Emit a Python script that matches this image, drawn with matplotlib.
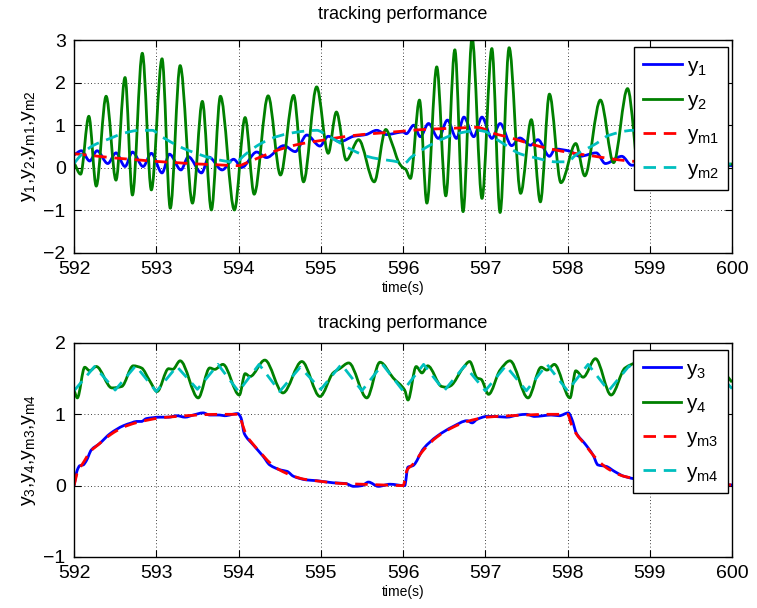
import numpy as np
import matplotlib
matplotlib.use("Agg")
import matplotlib.pyplot as plt
from matplotlib.path import Path
from matplotlib.patches import PathPatch
from matplotlib.lines import Line2D

plt.rcParams['font.family'] = ['Liberation Sans', 'DejaVu Sans']
plt.rcParams['mathtext.default'] = 'regular'

# ------------------------------------------------------------
# data (time in s, value)
# ------------------------------------------------------------

# top panel: y1 (blue)
t_y1 = [592.00, 592.09, 592.19, 592.28, 592.41, 592.51, 592.62, 592.71, 592.84, 592.94,
        593.07, 593.16, 593.30, 593.39, 593.55, 593.64, 593.80, 593.94, 594.04, 594.22,
        594.34, 594.55, 594.69, 594.83, 594.99, 595.09, 595.23, 595.40, 595.55, 595.68,
        595.80, 596.00, 596.04, 596.13, 596.21, 596.31, 596.43, 596.54, 596.65, 596.74,
        596.86, 596.96, 597.08, 597.18, 597.32, 597.42, 597.55, 597.64, 597.78, 597.85,
        598.03, 598.15, 598.35, 598.46, 598.66, 598.78, 599.00, 599.30, 599.60, 600.00]
y1 = [0.30, 0.40, 0.16, 0.40, 0.10, 0.35, 0.03, 0.37, 0.03, 0.34,
      -0.12, 0.32, -0.05, 0.26, -0.12, 0.25, -0.05, 0.20, 0.01, 0.37,
      0.24, 0.52, 0.38, 0.77, 0.51, 0.74, 0.61, 0.74, 0.78, 0.88,
      0.78, 0.84, 0.80, 1.00, 0.73, 1.04, 0.69, 1.12, 0.69, 1.19,
      0.73, 1.19, 0.69, 1.04, 0.52, 0.70, 0.53, 0.66, 0.27, 0.44,
      0.39, 0.27, 0.35, 0.10, 0.27, 0.06, 0.15, 0.05, 0.12, 0.05]

# top panel: y2 (green)
t_y2 = [592.00, 592.08, 592.18, 592.27, 592.39, 592.51, 592.62, 592.71, 592.83, 592.94,
        593.07, 593.17, 593.29, 593.44, 593.56, 593.67, 593.78, 593.95, 594.08, 594.19,
        594.36, 594.51, 594.67, 594.79, 594.95, 595.09, 595.19, 595.31, 595.46, 595.65,
        595.79, 595.87, 595.95, 596.00, 596.03, 596.09, 596.20, 596.29, 596.41, 596.52,
        596.63, 596.73, 596.84, 596.96, 597.08, 597.18, 597.29, 597.43, 597.56, 597.67,
        597.78, 597.92, 598.10, 598.21, 598.40, 598.56, 598.73, 598.88, 599.05, 599.20,
        599.38, 599.55, 599.72, 599.88, 600.00]
y2 = [0.12, -0.15, 1.21, -0.43, 1.68, -0.29, 2.12, -0.64, 2.69, -0.52,
      2.56, -0.95, 2.40, -0.83, 1.56, -0.99, 1.68, -0.99, 1.18, -0.62,
      1.69, -0.17, 1.70, -0.33, 1.90, 0.34, 1.31, 0.18, 0.66, -0.33,
      0.90, 0.55, 0.12, 0.00, -0.03, -0.25, 1.59, -0.83, 2.37, -0.66,
      2.77, -1.03, 3.05, -0.72, 2.80, -1.05, 2.82, -0.60, 1.13, -0.80,
      1.73, -0.35, 0.57, -0.19, 1.59, 0.12, 1.86, -0.20, 1.30, -0.10,
      1.00, 0.00, 0.80, 0.00, 0.10]

# top panel: ym1 (red dashed)
t_ym1 = [592.00, 592.25, 592.50, 592.75, 593.00, 593.25, 593.50, 593.75, 594.00, 594.10,
         594.25, 594.50, 594.75, 595.00, 595.25, 595.50, 595.75, 596.00, 596.25, 596.50,
         596.75, 596.90, 597.00, 597.10, 597.30, 597.55, 597.80, 598.05, 598.30, 598.50,
         598.75, 599.00, 599.50, 600.00]
ym1 = [0.33, 0.28, 0.23, 0.19, 0.15, 0.12, 0.09, 0.07, 0.05, 0.12,
       0.24, 0.43, 0.56, 0.64, 0.72, 0.78, 0.82, 0.86, 0.90, 0.92,
       0.94, 0.95, 0.90, 0.81, 0.71, 0.56, 0.44, 0.35, 0.28, 0.22,
       0.16, 0.13, 0.09, 0.07]

# top panel: ym2 (cyan dashed)
t_ym2 = [592.00, 592.10, 592.23, 592.44, 592.60, 592.80, 592.95, 593.05, 593.25, 593.40,
         593.66, 593.80, 593.96, 594.08, 594.22, 594.40, 594.60, 594.80, 594.95, 595.07,
         595.28, 595.40, 595.56, 595.70, 595.88, 596.02, 596.10, 596.20, 596.30, 596.45,
         596.60, 596.75, 596.90, 597.00, 597.10, 597.25, 597.42, 597.60, 597.86, 598.00,
         598.10, 598.35, 598.50, 598.80, 599.00, 599.20, 599.50, 599.80, 600.00]
ym2 = [0.10, 0.33, 0.52, 0.69, 0.81, 0.88, 0.88, 0.75, 0.53, 0.40,
       0.23, 0.17, 0.13, 0.31, 0.51, 0.69, 0.80, 0.86, 0.88, 0.77,
       0.53, 0.40, 0.27, 0.21, 0.16, 0.11, 0.25, 0.38, 0.50, 0.65,
       0.77, 0.84, 0.88, 0.85, 0.72, 0.53, 0.33, 0.24, 0.14, 0.14,
       0.30, 0.57, 0.76, 0.88, 0.84, 0.60, 0.30, 0.15, 0.08]

# bottom panel: y3 (blue)
t_y3 = [592.00, 592.04, 592.07, 592.11, 592.15, 592.21, 592.31, 592.44, 592.60, 592.70,
        592.76, 592.82, 592.88, 593.05, 593.15, 593.25, 593.35, 593.45, 593.57, 593.65,
        593.77, 593.83, 593.99, 594.03, 594.07, 594.18, 594.30, 594.38, 594.51, 594.59,
        594.67, 594.83, 594.95, 595.15, 595.30, 595.40, 595.50, 595.58, 595.70, 595.84,
        596.02, 596.06, 596.12, 596.25, 596.41, 596.61, 596.78, 596.84, 596.90, 597.02,
        597.10, 597.26, 597.40, 597.50, 597.60, 597.70, 597.80, 597.90, 598.01, 598.05,
        598.11, 598.21, 598.31, 598.37, 598.47, 598.57, 598.69, 599.00, 599.50, 600.00]
y3 = [0.00, 0.22, 0.28, 0.29, 0.35, 0.50, 0.59, 0.73, 0.84, 0.88,
      0.90, 0.90, 0.94, 0.96, 0.96, 0.98, 0.96, 0.99, 1.02, 0.99,
      0.99, 0.98, 1.01, 0.95, 0.73, 0.57, 0.41, 0.29, 0.22, 0.20,
      0.13, 0.08, 0.07, 0.04, 0.03, -0.01, 0.00, 0.05, -0.01, 0.02,
      0.00, 0.26, 0.28, 0.52, 0.69, 0.83, 0.91, 0.88, 0.93, 0.97,
      0.97, 0.96, 0.99, 1.00, 0.97, 0.98, 0.99, 0.98, 1.02, 0.94,
      0.73, 0.59, 0.43, 0.29, 0.27, 0.20, 0.13, 0.06, 0.02, 0.01]

# bottom panel: y4 (green)
t_y4 = [592.00, 592.04, 592.13, 592.19, 592.27, 592.46, 592.58, 592.72, 592.82, 592.92,
        593.01, 593.15, 593.20, 593.29, 593.51, 593.65, 593.71, 593.81, 594.01, 594.08,
        594.14, 594.32, 594.54, 594.77, 594.99, 595.15, 595.23, 595.34, 595.56, 595.72,
        595.88, 596.02, 596.06, 596.16, 596.23, 596.30, 596.47, 596.53, 596.58, 596.73,
        596.81, 596.90, 596.95, 597.04, 597.18, 597.30, 597.52, 597.68, 597.75, 597.84,
        598.03, 598.10, 598.19, 598.34, 598.53, 598.70, 598.85, 599.05, 599.30, 599.55,
        599.80, 600.00]
y4 = [1.34, 1.23, 1.66, 1.61, 1.67, 1.37, 1.39, 1.68, 1.65, 1.47,
      1.32, 1.64, 1.63, 1.75, 1.23, 1.65, 1.63, 1.70, 1.27, 1.57,
      1.53, 1.76, 1.30, 1.74, 1.25, 1.58, 1.64, 1.72, 1.23, 1.73,
      1.51, 1.34, 1.20, 1.67, 1.58, 1.68, 1.39, 1.38, 1.40, 1.65,
      1.74, 1.51, 1.49, 1.28, 1.62, 1.75, 1.23, 1.66, 1.62, 1.70,
      1.23, 1.61, 1.52, 1.78, 1.27, 1.65, 1.72, 1.28, 1.72, 1.25,
      1.70, 1.45]

# bottom panel: ym3 (red dashed)
t_ym3 = [592.00, 592.05, 592.10, 592.20, 592.30, 592.45, 592.60, 592.75, 592.90, 593.05,
         593.25, 593.50, 593.75, 594.00, 594.05, 594.10, 594.20, 594.30, 594.40, 594.50,
         594.65, 594.80, 595.00, 595.25, 595.50, 595.75, 596.00, 596.05, 596.12, 596.25,
         596.41, 596.61, 596.78, 597.02, 597.30, 597.50, 597.75, 598.00, 598.05, 598.11,
         598.21, 598.31, 598.40, 598.50, 598.69, 599.00, 599.50, 600.00]
ym3 = [0.00, 0.22, 0.30, 0.48, 0.58, 0.72, 0.82, 0.88, 0.92, 0.95,
       0.97, 0.99, 1.00, 1.00, 0.85, 0.70, 0.55, 0.42, 0.30, 0.22,
       0.14, 0.09, 0.06, 0.03, 0.02, 0.01, 0.00, 0.22, 0.30, 0.50,
       0.68, 0.82, 0.90, 0.96, 0.98, 0.99, 1.00, 1.00, 0.85, 0.72,
       0.58, 0.43, 0.32, 0.23, 0.13, 0.07, 0.03, 0.01]

# bottom panel: ym4 (cyan dashed)
t_ym4 = [592.00, 592.25, 592.50, 592.75, 593.00, 593.25, 593.50, 593.75, 594.00, 594.25,
         594.50, 594.75, 595.00, 595.25, 595.50, 595.75, 596.00, 596.25, 596.50, 596.75,
         597.00, 597.25, 597.50, 597.75, 598.00, 598.25, 598.50, 598.75, 599.00, 599.25,
         599.50, 599.75, 600.00]
ym4 = [1.33, 1.67, 1.34, 1.68, 1.32, 1.67, 1.35, 1.70, 1.32, 1.70,
       1.32, 1.66, 1.35, 1.70, 1.33, 1.70, 1.33, 1.70, 1.33, 1.68,
       1.33, 1.68, 1.33, 1.70, 1.33, 1.70, 1.33, 1.68, 1.33, 1.68,
       1.33, 1.68, 1.36]

BLUE = (0, 0, 1)
GREEN = (0, 0.5, 0)
RED = (1, 0, 0)
CYAN = (0, 0.75, 0.75)
LW = 2.0
DASH = (4.5, 2.8)


def smooth_path(t, v):
  # cubic curve through the read points, flat at turning points
  t = np.asarray(t, float)
  v = np.asarray(v, float)
  d = np.diff(v) / np.diff(t)
  m = np.zeros_like(v)
  m[0] = d[0]
  m[-1] = d[-1]
  for i in range(1, len(v) - 1):
    if d[i - 1] * d[i] > 0:
      m[i] = 2.0 / (1.0 / d[i - 1] + 1.0 / d[i])
  verts = [(t[0], v[0])]
  codes = [Path.MOVETO]
  for i in range(len(t) - 1):
    h = t[i + 1] - t[i]
    verts += [(t[i] + h / 3, v[i] + m[i] * h / 3),
              (t[i + 1] - h / 3, v[i + 1] - m[i + 1] * h / 3),
              (t[i + 1], v[i + 1])]
    codes += [Path.CURVE4] * 3
  return Path(verts, codes)


def add_curve(ax, t, v, color, dashed=False):
  ls = (0, DASH) if dashed else '-'
  ax.add_patch(PathPatch(smooth_path(t, v), fill=False, edgecolor=color,
                         lw=LW, linestyle=ls, capstyle='butt', joinstyle='round'))


def style_axes(ax, ylim, ylabel, labels):
  ax.set_xlim(592, 600)
  ax.set_ylim(*ylim)
  ax.set_xticks(range(592, 601))
  ax.set_yticks(range(ylim[0], ylim[1] + 1))
  ax.set_axisbelow(True)
  ax.grid(True, linestyle=(0, (1, 3)), color='k', lw=0.6)
  ax.tick_params(direction='in', top=True, right=True, length=5, width=0.8,
                 labelsize=14, pad=6)
  for s in ax.spines.values():
    s.set_linewidth(1.0)
  ax.set_xlabel('time(s)', fontsize=10, labelpad=2)
  ax.set_ylabel(ylabel, fontsize=14, labelpad=4)
  handles = [Line2D([], [], color=BLUE, lw=LW),
             Line2D([], [], color=GREEN, lw=LW),
             Line2D([], [], color=RED, lw=LW, dashes=DASH),
             Line2D([], [], color=CYAN, lw=LW, dashes=DASH)]
  ax.legend(handles, labels, loc='upper right', bbox_to_anchor=(0.9944, 0.966),
            borderaxespad=0, fontsize=15, fancybox=False, framealpha=1,
            edgecolor='k', handlelength=1.85, handletextpad=0.25,
            labelspacing=0.64, borderpad=0.45)


fig = plt.figure(figsize=(7.57, 6.08), dpi=100)
ax1 = fig.add_axes([0.0978, 0.5839, 0.8692, 0.3503])
ax2 = fig.add_axes([0.0978, 0.0839, 0.8692, 0.352])

add_curve(ax1, t_y1, y1, BLUE)
add_curve(ax1, t_y2, y2, GREEN)
add_curve(ax1, t_ym1, ym1, RED, dashed=True)
add_curve(ax1, t_ym2, ym2, CYAN, dashed=True)
style_axes(ax1, (-2, 3), r'$y_1{,}y_2{,}y_{m1}{,}y_{m2}$',
           [r'$y_1$', r'$y_2$', r'$y_{m1}$', r'$y_{m2}$'])
ax1.set_title('tracking performance', fontsize=13, pad=15)

add_curve(ax2, t_y3, y3, BLUE)
add_curve(ax2, t_y4, y4, GREEN)
add_curve(ax2, t_ym3, ym3, RED, dashed=True)
ax2.plot(t_ym4, ym4, color=CYAN, lw=LW, dashes=DASH)
style_axes(ax2, (-1, 2), r'$y_3{,}y_4{,}y_{m3}{,}y_{m4}$',
           [r'$y_3$', r'$y_4$', r'$y_{m3}$', r'$y_{m4}$'])
ax2.set_title('tracking performance', fontsize=13, pad=11)

fig.savefig('out.png', dpi=100)
